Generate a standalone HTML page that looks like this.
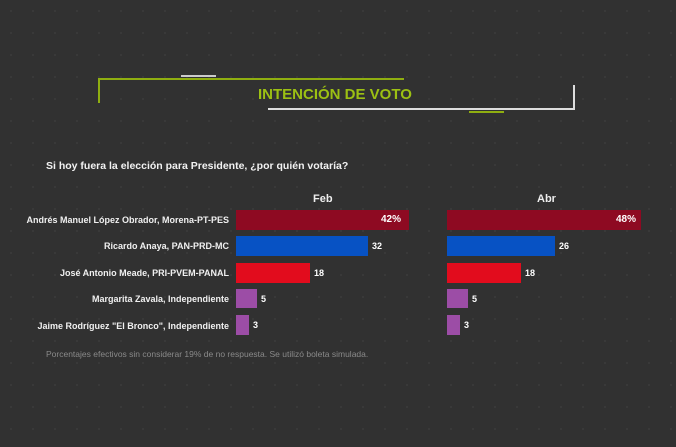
<!DOCTYPE html><html><head><meta charset="utf-8"><style>
body{margin:0;width:676px;height:447px;overflow:hidden;background:#313131;font-family:"Liberation Sans",sans-serif;position:relative}
.a{position:absolute}
.l{position:absolute;right:447px;font-size:9px;font-weight:bold;color:#f0f0f0;white-space:nowrap;line-height:12px}
.v{position:absolute;font-size:9px;font-weight:bold;color:#fff;line-height:12px}
</style></head><body>
<div class="a" style="left:0;top:0;width:676px;height:447px;background-image:radial-gradient(#444 0.8px,transparent 1px);background-size:22px 22px;opacity:.6"></div>
<div class="a" style="left:98px;top:78px;width:306px;height:2px;background:#8fae10"></div>
<div class="a" style="left:98px;top:78px;width:2px;height:25px;background:#8fae10"></div>
<div class="a" style="left:181px;top:75px;width:35px;height:2px;background:#ccc"></div>
<div class="a" style="left:268px;top:108px;width:307px;height:2px;background:#ddd"></div>
<div class="a" style="left:573px;top:85px;width:2px;height:25px;background:#ddd"></div>
<div class="a" style="left:469px;top:111px;width:35px;height:2px;background:#8fae10"></div>
<div class="a" style="left:258px;top:86px;font-size:15px;font-weight:bold;color:#9cc013">INTENCIÓN DE VOTO</div>
<div class="a" style="left:46px;top:160px;font-size:10.5px;font-weight:bold;color:#f2f2f2">Si hoy fuera la elección para Presidente, ¿por quién votaría?</div>
<div class="a" style="left:313px;top:193px;font-size:11px;font-weight:bold;color:#eee">Feb</div>
<div class="a" style="left:537px;top:193px;font-size:11px;font-weight:bold;color:#eee">Abr</div>
<div class="l" style="top:214px">Andrés Manuel López Obrador, Morena-PT-PES</div>
<div class="l" style="top:240px">Ricardo Anaya, PAN-PRD-MC</div>
<div class="l" style="top:267px">José Antonio Meade, PRI-PVEM-PANAL</div>
<div class="l" style="top:293px">Margarita Zavala, Independiente</div>
<div class="l" style="top:320px">Jaime Rodríguez "El Bronco", Independiente</div>
<div class="a" style="left:236px;top:210px;width:173px;height:20px;background:#8e0a22"></div>
<div class="v" style="left:381px;top:214px;font-size:10px">42%</div>
<div class="a" style="left:236px;top:236px;width:132px;height:20px;background:#0752c4"></div>
<div class="v" style="left:372px;top:240px">32</div>
<div class="a" style="left:236px;top:263px;width:74px;height:20px;background:#e20c1d"></div>
<div class="v" style="left:314px;top:267px">18</div>
<div class="a" style="left:236px;top:289px;width:21px;height:19px;background:#9c4da6"></div>
<div class="v" style="left:261px;top:293px">5</div>
<div class="a" style="left:236px;top:315px;width:13px;height:20px;background:#9c4da6"></div>
<div class="v" style="left:253px;top:319px">3</div>
<div class="a" style="left:447px;top:210px;width:194px;height:20px;background:#8e0a22"></div>
<div class="v" style="left:616px;top:214px;font-size:10px">48%</div>
<div class="a" style="left:447px;top:236px;width:108px;height:20px;background:#0752c4"></div>
<div class="v" style="left:559px;top:240px">26</div>
<div class="a" style="left:447px;top:263px;width:74px;height:20px;background:#e20c1d"></div>
<div class="v" style="left:525px;top:267px">18</div>
<div class="a" style="left:447px;top:289px;width:21px;height:19px;background:#9c4da6"></div>
<div class="v" style="left:472px;top:293px">5</div>
<div class="a" style="left:447px;top:315px;width:13px;height:20px;background:#9c4da6"></div>
<div class="v" style="left:464px;top:319px">3</div>
<div class="a" style="left:46px;top:349px;font-size:8.5px;color:#8a8a8a">Porcentajes efectivos sin considerar 19% de no respuesta. Se utilizó boleta simulada.</div>
</body></html>
